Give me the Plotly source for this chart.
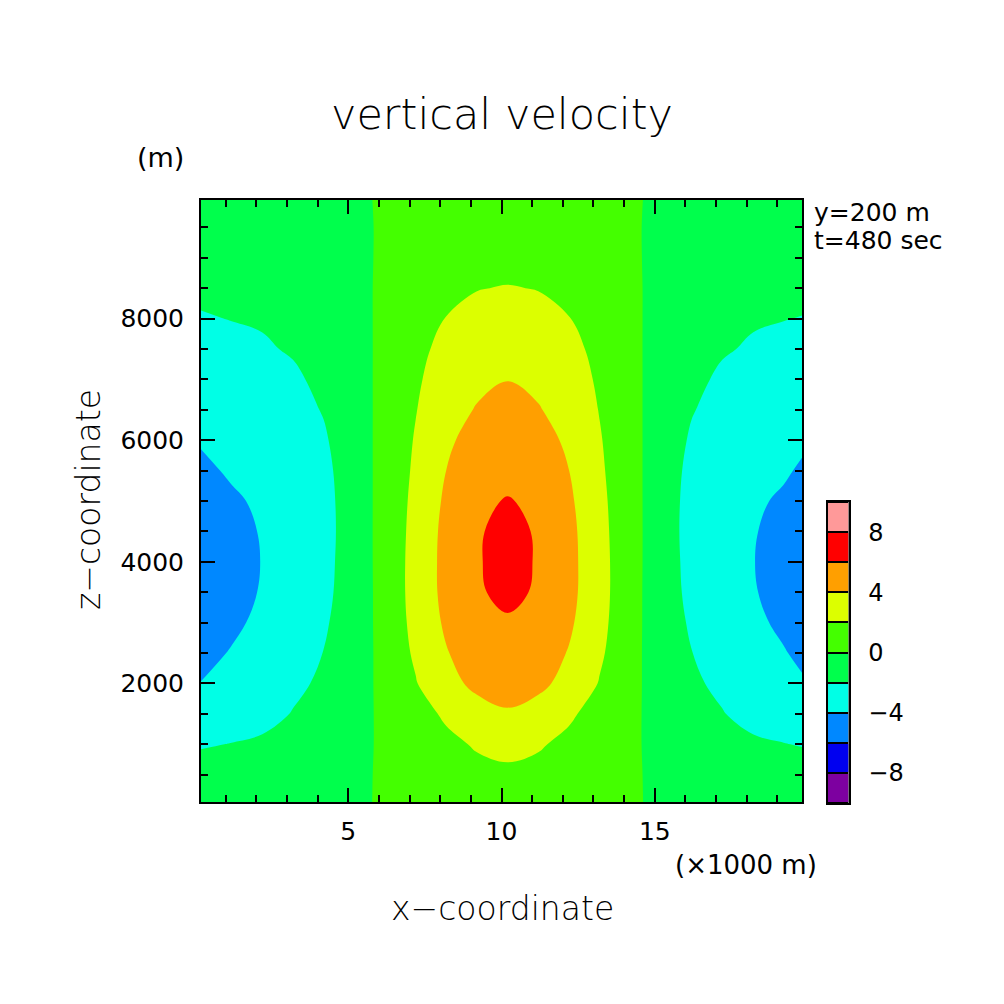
import plotly.graph_objects as go

# model grid: x in km (shown as x1000 m), z in m
x_km = [0.2, 1.2, 2.2, 3.2, 4.2, 5.2, 6.2, 7.2, 8.2, 9.2, 10.2,
        11.2, 12.2, 13.2, 14.2, 15.2, 16.2, 17.2, 18.2, 19.2, 19.8]
z_m = [50, 500, 1000, 1500, 2000, 2500, 3000, 3500, 4000, 4500, 5000,
       5500, 6000, 6500, 7000, 7500, 8000, 8500, 9000, 9500, 9950]

# vertical velocity, one row per z level (bottom to top)
w = [
    [-0.29, -0.26, -0.24, -0.20, -0.15, -0.07, 0.05, 0.23, 0.39, 0.51, 0.54, 0.51, 0.39, 0.23, 0.05, -0.07, -0.15, -0.20, -0.24, -0.26, -0.28],
    [-1.18, -1.06, -0.96, -0.80, -0.62, -0.24, 0.16, 0.67, 1.13, 1.47, 1.56, 1.47, 1.13, 0.67, 0.16, -0.24, -0.62, -0.80, -0.96, -1.06, -1.14],
    [-2.16, -1.95, -1.75, -1.45, -1.00, -0.43, 0.25, 1.00, 1.55, 2.19, 2.65, 2.19, 1.55, 1.00, 0.25, -0.43, -1.00, -1.45, -1.75, -1.95, -2.09],
    [-3.19, -2.90, -2.52, -1.93, -1.40, -0.72, 0.42, 1.23, 2.30, 3.40, 3.84, 3.40, 2.30, 1.23, 0.42, -0.72, -1.40, -1.93, -2.52, -2.90, -3.09],
    [-3.97, -3.50, -2.95, -2.32, -1.75, -0.90, 0.55, 1.89, 3.52, 4.35, 4.63, 4.35, 3.52, 1.89, 0.55, -0.90, -1.75, -2.32, -2.95, -3.50, -3.85],
    [-4.41, -3.91, -3.35, -2.72, -1.97, -0.98, 0.60, 2.29, 3.89, 5.00, 5.32, 5.00, 3.89, 2.29, 0.60, -0.98, -1.97, -2.72, -3.35, -3.91, -4.28],
    [-4.68, -4.27, -3.70, -3.00, -2.22, -1.02, 0.65, 2.55, 4.30, 5.55, 5.92, 5.55, 4.30, 2.55, 0.65, -1.02, -2.22, -3.00, -3.70, -4.27, -4.54],
    [-4.85, -4.39, -3.92, -3.25, -2.40, -1.15, 0.74, 2.65, 4.55, 5.92, 6.17, 5.92, 4.55, 2.65, 0.74, -1.15, -2.40, -3.25, -3.92, -4.39, -4.70],
    [-4.90, -4.40, -3.97, -3.40, -2.61, -0.96, 0.64, 2.70, 4.56, 5.93, 6.30, 5.93, 4.56, 2.70, 0.64, -0.96, -2.61, -3.40, -3.97, -4.40, -4.75],
    [-4.83, -4.39, -3.92, -3.30, -2.56, -1.16, 0.78, 2.55, 4.54, 5.92, 6.24, 5.92, 4.54, 2.55, 0.78, -1.16, -2.56, -3.30, -3.92, -4.39, -4.68],
    [-4.63, -4.22, -3.75, -3.20, -2.56, -1.08, 0.72, 2.45, 4.32, 5.80, 6.06, 5.80, 4.32, 2.45, 0.72, -1.08, -2.56, -3.20, -3.75, -4.22, -4.49],
    [-4.31, -3.81, -3.45, -3.00, -2.47, -0.95, 0.63, 2.30, 4.01, 5.25, 5.67, 5.25, 4.01, 2.30, 0.63, -0.95, -2.47, -3.00, -3.45, -3.81, -4.18],
    [-3.87, -3.60, -3.30, -2.85, -2.21, -0.90, 0.60, 2.14, 3.64, 4.80, 5.21, 4.80, 3.64, 2.14, 0.60, -0.90, -2.21, -2.85, -3.30, -3.60, -3.75],
    [-3.43, -3.22, -2.97, -2.61, -1.90, -0.83, 0.55, 1.93, 3.30, 4.11, 4.62, 4.11, 3.30, 1.93, 0.55, -0.83, -1.90, -2.61, -2.97, -3.22, -3.33],
    [-2.99, -2.82, -2.60, -2.27, -1.60, -0.75, 0.50, 1.77, 2.80, 3.60, 3.96, 3.60, 2.80, 1.77, 0.50, -0.75, -1.60, -2.27, -2.60, -2.82, -2.90],
    [-2.55, -2.40, -2.18, -1.85, -1.40, -0.68, 0.45, 1.63, 2.40, 3.00, 3.34, 3.00, 2.40, 1.63, 0.45, -0.68, -1.40, -1.85, -2.18, -2.40, -2.47],
    [-2.11, -1.96, -1.85, -1.60, -1.20, -0.60, 0.40, 1.50, 2.03, 2.45, 2.69, 2.45, 2.03, 1.50, 0.40, -0.60, -1.20, -1.60, -1.85, -1.96, -2.04],
    [-1.69, -1.62, -1.50, -1.30, -0.98, -0.48, 0.32, 1.20, 1.68, 1.95, 2.07, 1.95, 1.68, 1.20, 0.32, -0.48, -0.98, -1.30, -1.50, -1.62, -1.64],
    [-1.27, -1.21, -1.12, -0.98, -0.74, -0.36, 0.22, 0.84, 1.18, 1.37, 1.45, 1.37, 1.18, 0.84, 0.22, -0.36, -0.74, -0.98, -1.12, -1.21, -1.24],
    [-0.78, -0.74, -0.69, -0.60, -0.45, -0.22, 0.13, 0.51, 0.72, 0.83, 0.88, 0.83, 0.72, 0.51, 0.13, -0.22, -0.45, -0.60, -0.69, -0.74, -0.76],
    [-0.34, -0.32, -0.30, -0.26, -0.20, -0.10, 0.07, 0.26, 0.36, 0.42, 0.44, 0.42, 0.36, 0.26, 0.07, -0.10, -0.20, -0.26, -0.30, -0.32, -0.33],
]

# shading: 10 bands of width 2 from -10 to 10
band_mids = [-9, -7, -5, -3, -1, 1, 3, 5, 7, 9]
band_colors = ["#7d00a0", "#0000f0", "#0088ff", "#00ffe6", "#00ff4c",
               "#44ff00", "#dcff00", "#ff9f00", "#ff0000", "#ff9999"]

x_ticks = [5, 10, 15]
z_ticks = [2000, 4000, 6000, 8000]
cbar_ticks = [-8, -4, 0, 4, 8]
cbar_labels = ["\u22128", "\u22124", "0", "4", "8"]

W = H = 1004
FONT = "DejaVu Sans"

# contour fill colour of a band is looked up at its midpoint -> (mid+9)/18
contour_scale = [[i / (len(band_colors) - 1), c] for i, c in enumerate(band_colors)]
# stepped scale for the key
key_scale = []
for i, c in enumerate(band_colors):
    key_scale.append([i / len(band_colors), c])
    key_scale.append([(i + 1) / len(band_colors), c])

fig = go.Figure()
fig.add_trace(go.Contour(
    x=x_km, y=z_m, z=w,
    autocontour=False,
    contours=dict(start=-8, end=8, size=2, coloring="fill", showlines=False),
    colorscale=contour_scale,
    line=dict(width=0, smoothing=1.1),
    showscale=False,
    hoverinfo="skip",
))

# colour key drawn as a one-column heatmap on its own small axes
fig.add_trace(go.Heatmap(
    x=[0], y=band_mids, z=[[m] for m in band_mids],
    zmin=-10, zmax=10, colorscale=key_scale,
    showscale=False, ygap=2,
    xaxis="x2", yaxis="y2", hoverinfo="skip",
))

frame = dict(showline=True, linecolor="black", linewidth=2,
             showgrid=False, zeroline=False)

fig.update_layout(
    width=W, height=H,
    margin=dict(l=0, r=0, t=0, b=0),
    paper_bgcolor="white",
    plot_bgcolor="black",
    font=dict(family=FONT, color="black"),
    showlegend=False,
    title=dict(text="vertical velocity", x=0.5, xanchor="center",
               y=1 - 114 / H, yanchor="middle",
               font=dict(family=FONT, size=43, color="black", weight=300)),
    xaxis=dict(
        **frame, domain=[201 / W, 802 / W], range=[0.2, 19.8], anchor="y",
        mirror="allticks", ticks="inside", ticklen=14, tickwidth=2,
        tickcolor="black", tickvals=x_ticks, ticklabelstandoff=6,
        tickfont=dict(size=25),
        minor=dict(ticks="inside", ticklen=7, tickwidth=1.5,
                   tickcolor="black", dtick=1, tick0=0, showgrid=False),
    ),
    yaxis=dict(
        **frame, domain=[1 - 802 / H, 1 - 200 / H], range=[50, 9950], anchor="x",
        mirror="allticks", ticks="inside", ticklen=14, tickwidth=2,
        tickcolor="black", tickvals=z_ticks, ticklabelstandoff=10,
        tickfont=dict(size=25),
        minor=dict(ticks="inside", ticklen=7, tickwidth=1.5,
                   tickcolor="black", dtick=500, tick0=0, showgrid=False),
    ),
    xaxis2=dict(
        **frame, domain=[827.5 / W, 848.5 / W], range=[-0.5, 0.5],
        anchor="y2", mirror=True, ticks="", showticklabels=False,
    ),
    yaxis2=dict(
        **frame, domain=[1 - 803 / H, 1 - 502 / H], range=[-10, 10],
        anchor="x2", side="right", mirror=True, ticks="",
        tickvals=cbar_ticks, ticktext=cbar_labels, ticklabelstandoff=13,
        tickfont=dict(size=24),
    ),
)

notes = [
    dict(text="(m)", x=160, y=158, size=27, xanchor="center", angle=0, weight=400),
    dict(text="(\u00d71000 m)", x=746, y=865, size=26, xanchor="center", angle=0, weight=400),
    dict(text="x\u2212coordinate", x=502, y=908, size=33, xanchor="center", angle=0, weight=300),
    dict(text="z\u2212coordinate", x=88, y=500, size=33, xanchor="center", angle=-90, weight=300),
    dict(text="y=200 m", x=812, y=212, size=25, xanchor="left", angle=0, weight=400),
    dict(text="t=480 sec", x=812, y=240, size=25, xanchor="left", angle=0, weight=400),
]
for n in notes:
    fig.add_annotation(
        text=n["text"], x=n["x"] / W, y=1 - n["y"] / H,
        xref="paper", yref="paper", xanchor=n["xanchor"], yanchor="middle",
        textangle=n["angle"], showarrow=False,
        font=dict(family=FONT, size=n["size"], color="black", weight=n["weight"]),
    )

fig.write_html("out.html", config={"displayModeBar": False},
               post_script="document.body.style.margin='0';")
